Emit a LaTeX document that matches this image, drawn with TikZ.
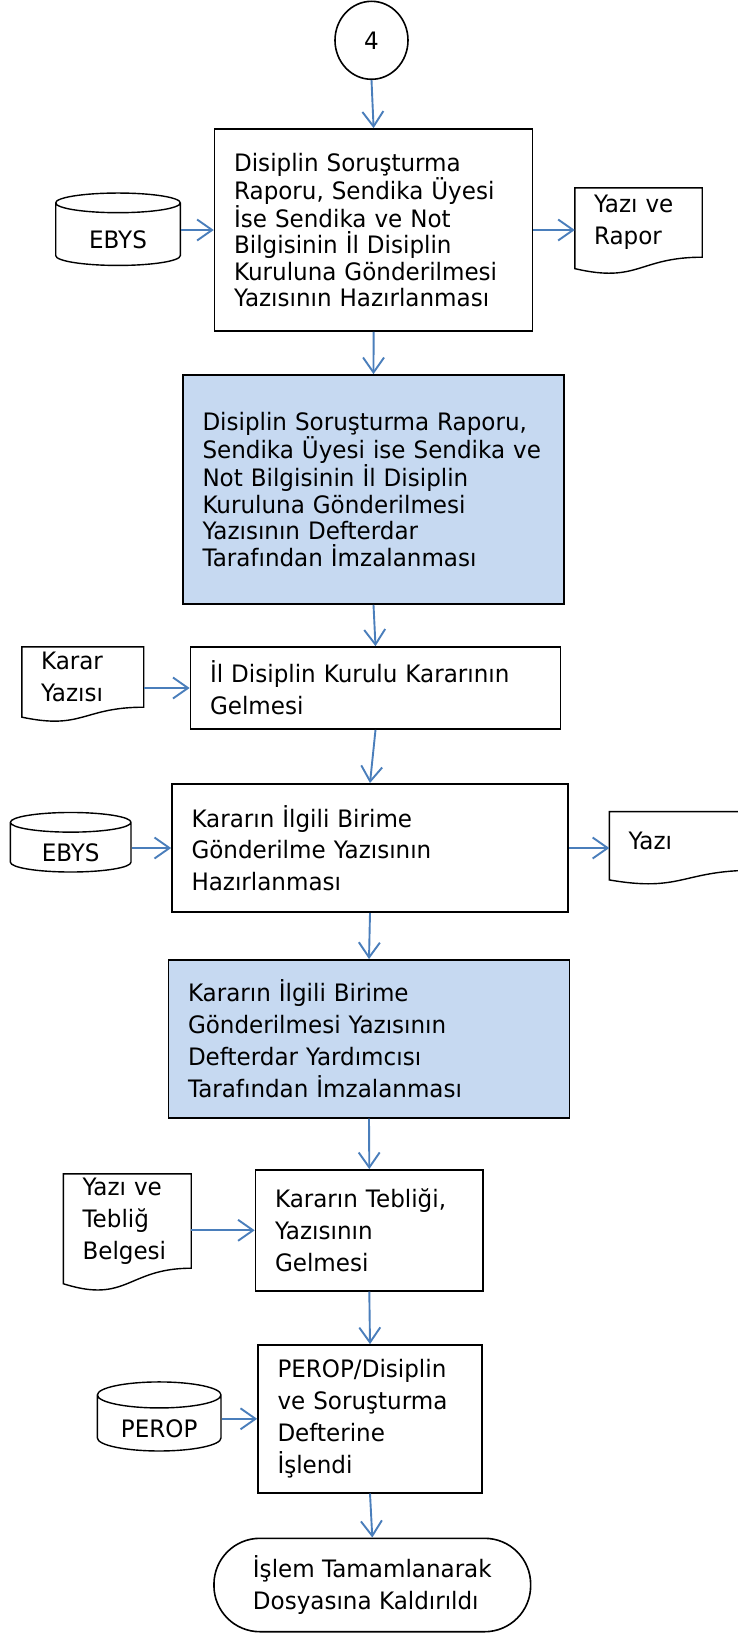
\documentclass[tikz,border=0pt]{standalone}
\usepackage{fontspec}
\setmainfont{DejaVu Sans}[FakeStretch=0.96]
\usetikzlibrary{shapes.geometric,arrows.meta,calc}
\definecolor{flowblue}{HTML}{4A7EBB}
\definecolor{signblue}{HTML}{C6D9F1}
\hyphenpenalty=10000
\exhyphenpenalty=10000
\tikzset{
    every node/.style={font=\fontsize{24}{31.8}\selectfont},
    tight/.style={font=\fontsize{24}{26.5}\selectfont},
    procbox/.style={draw, rectangle, line width=1.7pt, inner xsep=19.5pt, inner ysep=0pt, align=left},
    signbox/.style={procbox, fill=signblue},
    dbase/.style={draw, cylinder, shape border rotate=90, aspect=0.34, line width=1.4pt, inner sep=0pt, text height=29pt},
    paper/.style={rectangle, inner xsep=19pt, inner ysep=0pt, align=left},
    docline/.style={line width=1.4pt},
    flow/.style={draw=flowblue, line width=1.9pt, -{Straight Barb[length=15pt,width=21pt]}}
}
\newcommand\docframe[1]{%
    \draw[docline] ($(#1.north west)!1.1646!(#1.south west)$) .. controls ($(#1.north)!1.38!(#1.south)$) and (#1.south) .. (#1.south east)
        -- (#1.north east) -- (#1.north west) -- cycle;}
\begin{document}
\begin{tikzpicture}[x=1pt,y=-1pt]
        \useasboundingbox (0,0) rectangle (738,1633);

        \node[draw, ellipse, line width=1.6pt, inner sep=0pt, minimum width=73pt, minimum height=78pt] (start) at (371.5,40.3) {4};

        \node[procbox, tight, text width=279pt, minimum width=318pt, minimum height=202pt] (box1) at (373.6,230)
            {Disiplin Soruşturma\\Raporu, Sendika Üyesi\\İse Sendika ve Not\\Bilgisinin İl Disiplin\\Kuruluna Gönderilmesi\\Yazısının Hazırlanması};
        \node[dbase, minimum width=124.6pt, minimum height=72.4pt] (ebys1) at (118,234.5) {EBYS};
        \node[paper, text width=89pt, minimum width=127pt, minimum height=69pt] (rapor) at (638.5,222.5) {Yazı ve\\Rapor};
        \docframe{rapor}

        \node[signbox, tight, text width=342pt, minimum width=381pt, minimum height=229pt] (sign1) at (373.5,489.5)
            {Disiplin Soruşturma Raporu,\\Sendika Üyesi ise Sendika ve\\Not Bilgisinin İl Disiplin\\Kuruluna Gönderilmesi\\Yazısının Defterdar\\Tarafından İmzalanması};

        \node[procbox, text width=331pt, minimum width=370pt, minimum height=82pt] (box2) at (375.5,688)
            {İl Disiplin Kurulu Kararının\\Gelmesi};
        \node[paper, text width=83.5pt, minimum width=121.5pt, minimum height=60pt] (karar) at (82.8,677) {Karar\\Yazısı};
        \docframe{karar}

        \node[procbox, text width=357pt, minimum width=396pt, minimum height=128.3pt] (box3) at (370,848)
            {Kararın İlgili Birime\\Gönderilme Yazısının\\Hazırlanması};
        \node[dbase, minimum width=120.6pt, minimum height=58.4pt] (ebys2) at (70.7,847.5) {EBYS};
        \node[paper, text width=107pt, minimum width=145pt, minimum height=58.3pt] (yazi) at (682,840.9) {Yazı};
        \docframe{yazi}

        \node[signbox, text width=362pt, minimum width=401pt, minimum height=157.7pt] (sign2) at (369,1038.8)
            {Kararın İlgili Birime\\Gönderilmesi Yazısının\\Defterdar Yardımcısı\\Tarafından İmzalanması};

        \node[procbox, text width=188.5pt, minimum width=227.5pt, minimum height=120.7pt] (box4) at (369.3,1230.3)
            {Kararın Tebliği,\\Yazısının\\Gelmesi};
        \node[paper, text width=89.5pt, minimum width=127.5pt, minimum height=94pt] (teblig) at (127.3,1221) {Yazı ve\\Tebliğ\\Belgesi};
        \docframe{teblig}

        \node[procbox, text width=185pt, minimum width=224pt, minimum height=147.7pt] (box5) at (370,1418.8)
            {PEROP/Disiplin\\ve Soruşturma\\Defterine\\İşlendi};
        \node[dbase, minimum width=123.6pt, minimum height=63.3pt] (perop) at (159.2,1423.3) {PEROP};

        \node[draw, rectangle, rounded corners=46pt, line width=1.6pt, align=left, minimum width=316.7pt, minimum height=93.4pt] (finish) at (372.3,1585)
            {İşlem Tamamlanarak\\Dosyasına Kaldırıldı};

        \draw[flow] (start.south) -- (box1.north);
        \draw[flow] (box1.south) -- (sign1.north);
        \draw[flow] (sign1.south) -- (box2.north);
        \draw[flow] (box2.south) -- (box3.north);
        \draw[flow] (box3.south) -- (sign2.north);
        \draw[flow] (sign2.south) -- (box4.north);
        \draw[flow] (box4.south) -- (box5.north);
        \draw[flow] (box5.south) -- (finish.north);

        \draw[flow] (ebys1.east |- box1.west) -- (box1.west);
        \draw[flow] (box1.east) -- (box1.east -| rapor.west);
        \draw[flow] (karar.east |- box2.west) -- (box2.west);
        \draw[flow] (ebys2.east |- box3.west) -- (box3.west);
        \draw[flow] (box3.east) -- (box3.east -| yazi.west);
        \draw[flow] (teblig.east |- box4.west) -- (box4.west);
        \draw[flow] (perop.east |- box5.west) -- (box5.west);
    \end{tikzpicture}
\end{document}
